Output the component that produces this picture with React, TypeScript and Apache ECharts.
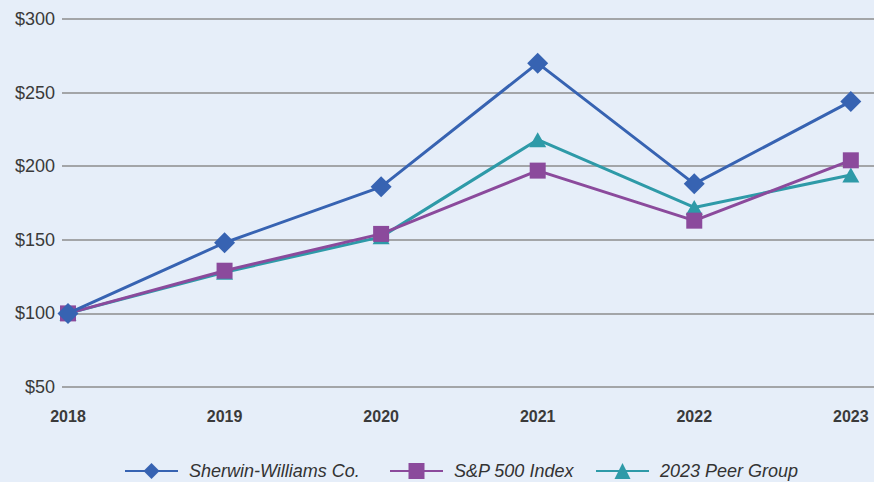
import React, { useEffect, useRef } from "react";
import * as echarts from "echarts";

const years = [2018, 2019, 2020, 2021, 2022, 2023];
const sherwin = [100, 148, 186, 270, 188, 244];
const sp500 = [100, 129, 154, 197, 163, 204];
const peer = [100, 128, 152, 218, 172, 194];
const yTicks = [50, 100, 150, 200, 250, 300];
const seriesNames = ["Sherwin-Williams Co.", "S&P 500 Index", "2023 Peer Group"];

const pair = (vals: number[]) => years.map((y, i) => [y, vals[i]]);

export default function App() {
  const ref = useRef<HTMLDivElement>(null);
  useEffect(() => {
    if (!ref.current) return;
    const chart = echarts.init(ref.current, null, { renderer: "svg" });
    const font = "'Liberation Sans', Arial, Helvetica, sans-serif";
    const legendLefts = [124, 389, 595];
    const legends = seriesNames.map((n, i) => ({
      top: 462,
      left: legendLefts[i],
      padding: 0,
      itemWidth: 53,
      itemHeight: 20,
      textStyle: {
        fontFamily: font,
        fontSize: 18,
        fontStyle: "italic",
        color: "#333",
        padding: [1, 0, 0, 6],
      },
      data: [n],
    }));
    chart.setOption({
      animation: false,
      backgroundColor: "#e6eef9",
      grid: { left: 62, right: 0, top: 19, bottom: 95, containLabel: false },
      xAxis: {
        type: "value",
        min: 2017.9617,
        max: 2023.148,
        axisLine: { show: false },
        axisTick: { show: false },
        splitLine: { show: false },
        axisLabel: {
          customValues: years,
          formatter: (v: number) => String(v),
          fontFamily: font,
          fontSize: 16,
          fontWeight: "bold",
          color: "#3a3a3a",
          margin: 21,
        },
      },
      yAxis: {
        type: "value",
        min: yTicks[0],
        max: yTicks[yTicks.length - 1],
        interval: 50,
        axisLine: { show: false },
        axisTick: { show: false },
        splitLine: { lineStyle: { color: "#8c8c8c", width: 1.5 } },
        axisLabel: {
          formatter: (v: number) => "$" + v,
          fontFamily: font,
          fontSize: 18,
          color: "#3a3a3a",
          margin: 7,
        },
      },
      legend: legends,
      series: [
        {
          name: seriesNames[0],
          type: "line",
          data: pair(sherwin),
          z: 4,
          symbol: "diamond",
          symbolSize: 21,
          color: "#3763b2",
          lineStyle: { width: 3, color: "#3763b2" },
          itemStyle: { color: "#3763b2" },
        },
        {
          name: seriesNames[1],
          type: "line",
          data: pair(sp500),
          z: 3,
          symbol: "rect",
          symbolSize: 16,
          color: "#8b4a9c",
          lineStyle: { width: 3, color: "#8b4a9c" },
          itemStyle: { color: "#8b4a9c" },
        },
        {
          name: seriesNames[2],
          type: "line",
          data: pair(peer),
          z: 2,
          symbol: "triangle",
          symbolSize: [17, 15],
          color: "#2e9aa8",
          lineStyle: { width: 3, color: "#2e9aa8" },
          itemStyle: { color: "#2e9aa8" },
        },
      ],
    });
    return () => chart.dispose();
  }, []);
  return <div ref={ref} style={{ width: 874, height: 482, position: "fixed", left: 0, top: 0 }} />;
}
